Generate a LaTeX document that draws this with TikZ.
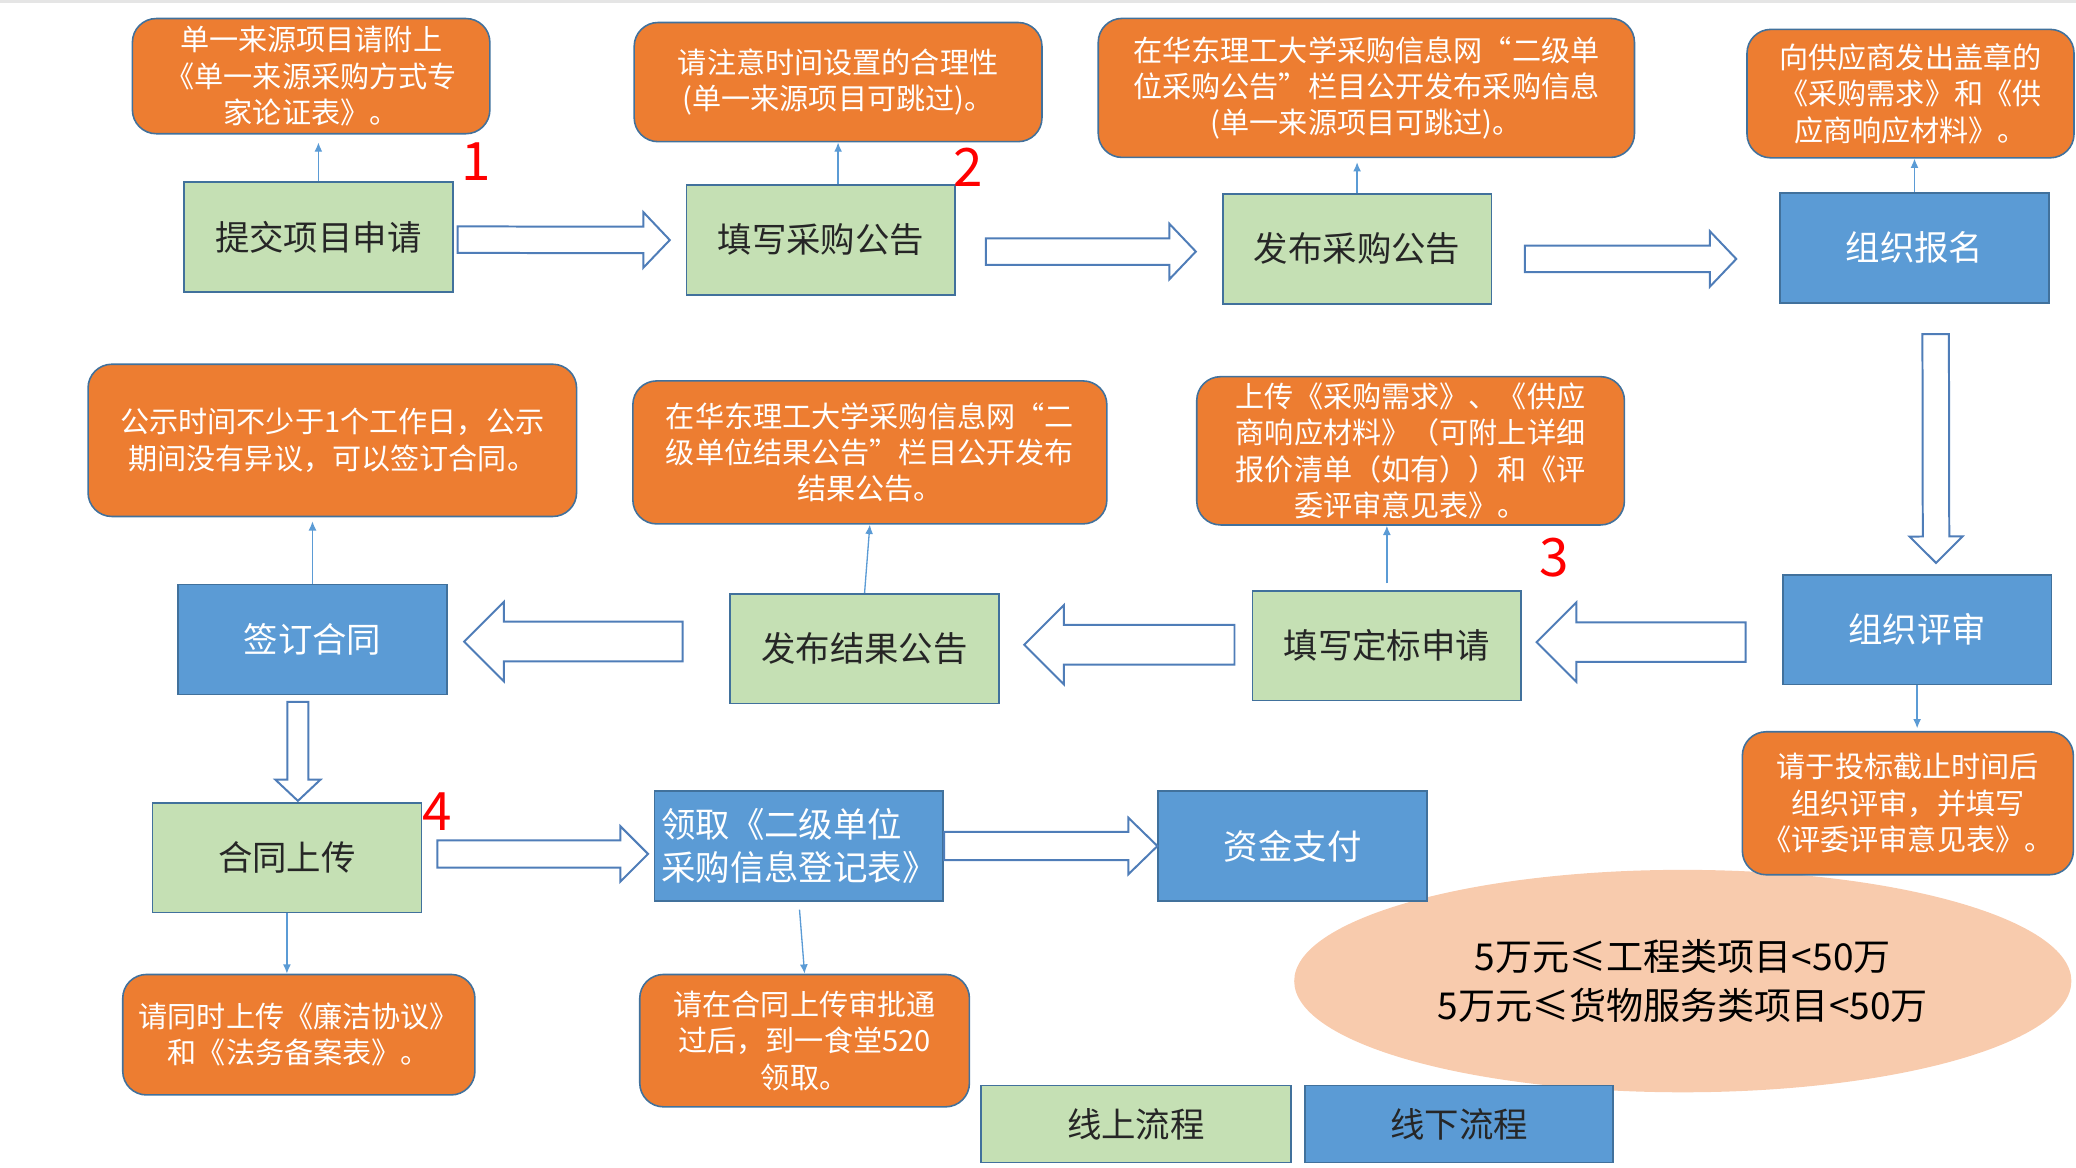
\documentclass[tikz,border=0pt]{standalone}
\usepackage{fontspec}
\setmainfont{Noto Sans CJK SC}
\usetikzlibrary{shapes.geometric,arrows.meta,calc}

\definecolor{notefill}{HTML}{ED7D31}
\definecolor{onlinefill}{HTML}{C5E0B4}
\definecolor{offlinefill}{HTML}{5B9BD5}
\definecolor{edgeblue}{HTML}{41719C}
\definecolor{linkblue}{HTML}{5B9BD5}
\definecolor{hollowblue}{HTML}{4F7DB8}
\definecolor{rangefill}{HTML}{F8CBAD}

\begin{document}
\begin{tikzpicture}[x=1pt,y=-1pt]
\tikzset{
  note/.style={draw=edgeblue, fill=notefill, rounded corners=18pt, line width=1.2pt, text=white, align=center, inner sep=0pt, font=\fontsize{22}{27.5}\selectfont},
  online/.style={draw=edgeblue, fill=onlinefill, line width=1.2pt, text=black!85, inner sep=0pt, minimum width=203pt, minimum height=83pt, font=\fontsize{26}{32}\selectfont},
  offline/.style={online, fill=offlinefill, text=white},
  stepnum/.style={text=red, inner sep=0pt, font=\fontsize{40}{40}\selectfont},
  rangebubble/.style={ellipse, fill=rangefill, inner sep=0pt, minimum width=587pt, minimum height=168pt, align=center, font=\fontsize{28}{37}\selectfont},
  link/.style={draw=linkblue, line width=1pt, -{Latex[length=7pt,width=6pt]}},
  hollow/.style n args={3}{draw=hollowblue, fill=white, line width=1.5pt, to path={
    let \p1=($(\tikztotarget)!#3!(\tikztostart)$) in
    ($(\tikztostart)!#1!90:(\tikztotarget)$) -- ($(\p1)!#1!90:(\tikztotarget)$)
    -- ($(\p1)!#2!90:(\tikztotarget)$) -- (\tikztotarget)
    -- ($(\p1)!#2!-90:(\tikztotarget)$) -- ($(\p1)!#1!-90:(\tikztotarget)$)
    -- ($(\tikztostart)!#1!-90:(\tikztotarget)$) -- cycle}}
}
\useasboundingbox (0,0) rectangle (1568,882);
\draw[black!10, line width=2pt] (0,1) -- (1568,1);
\node[rangebubble] (range) at (1271,741) {5万元≤工程类项目<50万\\5万元≤货物服务类项目<50万};
\node[note, minimum width=270pt, minimum height=87pt] (n1) at (235,57.5) {单一来源项目请附上\\《单一来源采购方式专\\家论证表》。};
\node[online] (p1) at (240.5,179) {提交项目申请};
\node[stepnum] (s1) at (360,122) {1};
\node[note, minimum width=308pt, minimum height=90pt] (n2) at (633,62) {请注意时间设置的合理性\\(单一来源项目可跳过)。};
\node[online] (p2) at (620,181.3) {填写采购公告};
\node[stepnum] (s2) at (731,126) {2};
\node[note, minimum width=405pt, minimum height=105pt] (n3) at (1032,66.4) {在华东理工大学采购信息网“二级单\\位采购公告”栏目公开发布采购信息\\(单一来源项目可跳过)。};
\node[online] (p3) at (1025,188) {发布采购公告};
\node[note, minimum width=247pt, minimum height=97pt] (n4) at (1443,70.7) {向供应商发出盖章的\\《采购需求》和《供\\应商响应材料》。};
\node[offline] (p4) at (1446,187.2) {组织报名};
\node[offline] (p5) at (1448,475.6) {组织评审};
\node[note, minimum width=250pt, minimum height=108pt] (n5) at (1441,606.7) {请于投标截止时间后\\组织评审，并填写\\《评委评审意见表》。};
\node[online] (p6) at (1047.5,487.7) {填写定标申请};
\node[stepnum] (s3) at (1174,421) {3};
\node[note, minimum width=323pt, minimum height=112pt] (n6) at (1065.4,340.5) {上传《采购需求》、《供应\\商响应材料》（可附上详细\\报价清单（如有））和《评\\委评审意见表》。};
\node[online] (p7) at (653,490) {发布结果公告};
\node[note, minimum width=358pt, minimum height=108pt] (n7) at (657,341.7) {在华东理工大学采购信息网“二\\级单位结果公告”栏目公开发布\\结果公告。};
\node[offline] (p8) at (236,483) {签订合同};
\node[note, minimum width=369pt, minimum height=115pt] (n8) at (251,332.6) {公示时间不少于1个工作日，公示\\期间没有异议，可以签订合同。};
\node[online] (p9) at (216.7,647.8) {合同上传};
\node[stepnum] (s4) at (330.4,613) {4};
\node[offline, minimum width=218pt, align=left] (p10) at (603.4,639) {领取《二级单位\\采购信息登记表》};
\node[offline] (p11) at (976.3,639) {资金支付};
\node[note, minimum width=266pt, minimum height=91pt] (n9) at (225.7,781.5) {请同时上传《廉洁协议》\\和《法务备案表》。};
\node[note, minimum width=249pt, minimum height=100pt] (n10) at (607.7,786) {请在合同上传审批通\\过后，到一食堂520\\领取。};
\node[online, minimum width=234pt, minimum height=58pt] (lon) at (858,849) {线上流程};
\node[offline, text=black!85, minimum width=233pt, minimum height=58pt] (loff) at (1102,849) {线下流程};
\draw[link, shorten >=6pt] (p1.north) -- (p1.north |- n1.south);
\draw[link] (p2.north -| n2.south) -- (n2.south);
\draw[link, shorten >=3pt] (p3.north) -- (p3.north |- n3.south);
\draw[link] (p4.north) -- (p4.north |- n4.south);
\draw[link, shorten >=2pt] (p5.south) -- (p5.south |- n5.north);
\draw[link, shorten <=5pt] (p6.north) -- (p6.north |- n6.south);
\draw[link] (p7.north) -- (n7.south);
\draw[link, shorten >=3pt] (p8.north) -- (p8.north |- n8.south);
\draw[link] (p9.south) -- (p9.south |- n9.north);
\draw[link, shorten <=6pt] (p10.south) -- (n10.north);
\draw[hollow={10pt}{21pt}{20pt}] ([xshift=3pt,yshift=-2pt]p1.east) to ([xshift=-12pt]p2.west);
\draw[hollow={10pt}{21pt}{20pt}] ([xshift=22.6pt,yshift=-8.7pt]p2.east) to ([xshift=-19.7pt,yshift=-2pt]p3.west);
\draw[hollow={10pt}{21pt}{20pt}] ([xshift=24.6pt,yshift=-7.6pt]p3.east) to ([xshift=-32.5pt,yshift=-8.4pt]p4.west);
\draw[hollow={10pt}{20pt}{20pt}] ([xshift=16pt,yshift=-23pt]p4.south) to ([xshift=14.3pt,yshift=8.3pt]p5.north);
\draw[hollow={15pt}{30pt}{30pt}] ([xshift=-27.5pt,yshift=-9.4pt]p5.west) to ([xshift=11pt,yshift=2.7pt]p6.east);
\draw[hollow={15pt}{30pt}{30pt}] ([xshift=-13pt,yshift=0.7pt]p6.west) to ([xshift=18.5pt,yshift=3pt]p7.east);
\draw[hollow={15pt}{30pt}{30pt}] ([xshift=-35.4pt,yshift=5.4pt]p7.west) to ([xshift=12.5pt,yshift=-1.6pt]p8.east);
\draw[hollow={8pt}{17pt}{16pt}] ([xshift=-11pt,yshift=-5pt]p8.south) to ([xshift=8.3pt,yshift=0.8pt]p9.north);
\draw[hollow={10.3pt}{21pt}{21pt}] ([xshift=11.5pt,yshift=2.8pt]p9.east) to ([xshift=-4.3pt,yshift=-6pt]p10.west);
\draw[hollow={10.7pt}{21.4pt}{22pt}] (p10.east) to (p11.west);
\end{tikzpicture}
\end{document}
